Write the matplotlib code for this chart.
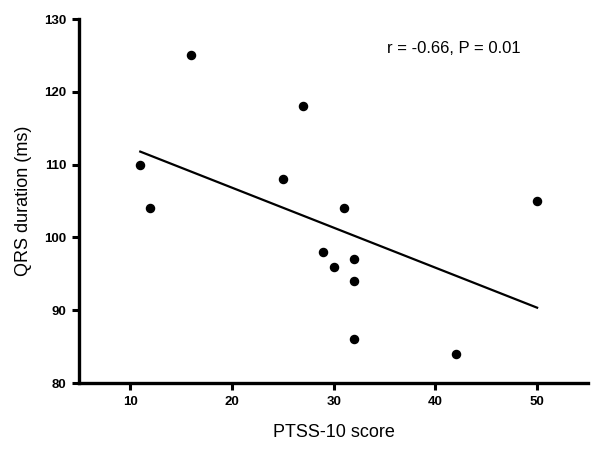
import numpy as np
import matplotlib
matplotlib.use('Agg')
import matplotlib.pyplot as plt

plt.rcParams['font.family'] = ['Liberation Sans', 'DejaVu Sans']

# PTSS-10 score vs QRS duration
ptss = [11, 12, 16, 27, 25, 31, 29, 30, 32, 32, 32, 42, 50]
qrs = [110, 104, 125, 118, 108, 104, 98, 96, 97, 94, 86, 84, 105]
x_ticks = [10, 20, 30, 40, 50]
y_ticks = [80, 90, 100, 110, 120, 130]
stats_text = 'r = -0.66, P = 0.01'

fig = plt.figure(figsize=(6, 4.53), dpi=100)
ax = fig.add_axes([0.132, 0.1545, 0.848, 0.8035])

ax.scatter(ptss, qrs, s=34, color='black', zorder=3)

# linear regression line over the data range
slope, intercept = np.polyfit(ptss, qrs, 1)
xs = np.array([min(ptss), max(ptss)])
ax.plot(xs, slope * xs + intercept, color='black', lw=1.6)

ax.set_xlim(5, 55)
ax.set_ylim(80, 130)
ax.set_xticks(x_ticks)
ax.set_yticks(y_ticks)

for side in ['top', 'right']:
    ax.spines[side].set_visible(False)
for side in ['left', 'bottom']:
    ax.spines[side].set_linewidth(2.4)
ax.tick_params(width=2.2, length=5, labelsize=9.5, pad=4)
for lab in ax.get_xticklabels() + ax.get_yticklabels():
    lab.set_fontweight('bold')

ax.set_xlabel('PTSS-10 score', fontsize=13, labelpad=12)
ax.set_ylabel('QRS duration (ms)', fontsize=13, labelpad=9)
ax.text(35.2, 126, stats_text, fontsize=12, ha='left', va='center')

plt.savefig('out.png', dpi=100)
